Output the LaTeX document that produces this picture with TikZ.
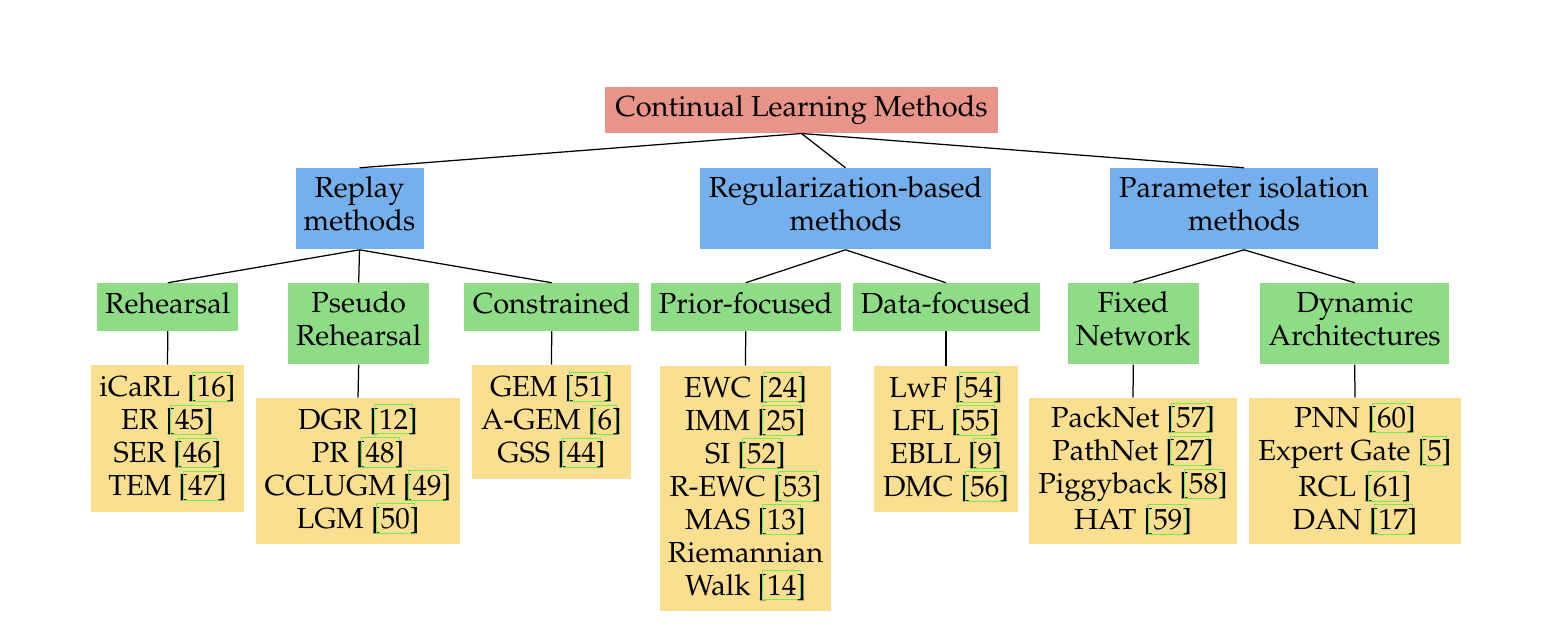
\documentclass[tikz,border=0pt]{standalone}
\usepackage[T1]{fontenc}
\usepackage{mathpazo}

\definecolor{rootred}{RGB}{232,148,136}
\definecolor{catblue}{RGB}{117,175,236}
\definecolor{subgreen}{RGB}{143,220,135}
\definecolor{leafyellow}{RGB}{249,223,143}
\definecolor{citegreen}{RGB}{120,235,80}

% citation number in brackets with a thin link frame around the number
\newcommand\rf[1]{[\setbox0=\hbox{#1}\rlap{\hbox to \wd0{\hss\textcolor{citegreen}{\fboxsep=1.6pt\fboxrule=0.4pt\fbox{\phantom{#1}}}\hss}}#1]}

\tikzset{
  base/.style={inner sep=0pt, align=center, font=\fontsize{11.6}{13.2}\selectfont,
               execute at begin node=\strut, execute at end node=\strut},
  wh/.style 2 args={minimum width=#1*0.4pt, minimum height=#2*0.4pt},
  rootbox/.style={base, fill=rootred},
  catbox/.style={base, fill=catblue},
  subbox/.style={base, fill=subgreen},
  leafbox/.style={base, fill=leafyellow},
  link/.style={line width=0.5pt, black}
}

\begin{document}
\begin{tikzpicture}[x=0.4pt, y=-0.4pt]
\useasboundingbox (0,0) rectangle (1552,632);

% root
\node[rootbox, wh={393}{46}] (root) at (801.5,110) {Continual Learning Methods};

% families
\node[catbox, wh={128}{81}] (replay) at (359.5,208.8) {Replay\\methods};
\node[catbox, wh={291}{81}] (reg)    at (845.5,208.8) {Regularization-based\\methods};
\node[catbox, wh={268}{81}] (param)  at (1244,208.8) {Parameter isolation\\methods};

% sub-categories
\node[subbox, wh={141}{47.5}] (reh)    at (167.8,307) {Rehearsal};
\node[subbox, wh={141}{81}]   (pseudo) at (358.7,323.7) {Pseudo\\Rehearsal};
\node[subbox, wh={175}{47.5}] (cons)   at (551.7,307) {Constrained};
\node[subbox, wh={190}{47.5}] (prior)  at (745.7,307) {Prior-focused};
\node[subbox, wh={187}{47.5}] (data)   at (946,307) {Data-focused};
\node[subbox, wh={131}{81}]   (fixed)  at (1133.3,323.7) {Fixed\\Network};
\node[subbox, wh={189}{81}]   (dyn)    at (1354.7,323.7) {Dynamic\\Architectures};

% methods
\node[leafbox, wh={153}{147}] (lreh) at (167.5,438.5)
  {iCaRL \rf{16}\\ER \rf{45}\\SER \rf{46}\\TEM \rf{47}};
\node[leafbox, wh={204}{146}] (lpseudo) at (358,471)
  {DGR \rf{12}\\PR \rf{48}\\CCLUGM \rf{49}\\LGM \rf{50}};
\node[leafbox, wh={159}{114}] (lcons) at (551.5,422)
  {GEM \rf{51}\\A-GEM \rf{6}\\GSS \rf{44}};
\node[leafbox, wh={171}{245}] (lprior) at (745.5,488.5)
  {EWC \rf{24}\\IMM \rf{25}\\SI \rf{52}\\R-EWC \rf{53}\\MAS \rf{13}\\Riemannian\\Walk \rf{14}};
\node[leafbox, wh={144}{146}] (ldata) at (946,439)
  {LwF \rf{54}\\LFL \rf{55}\\EBLL \rf{9}\\DMC \rf{56}};
\node[leafbox, wh={208}{146}] (lfixed) at (1133,471)
  {PackNet \rf{57}\\PathNet \rf{27}\\Piggyback \rf{58}\\HAT \rf{59}};
\node[leafbox, wh={212}{146}] (ldyn) at (1355,471)
  {PNN \rf{60}\\Expert Gate \rf{5}\\RCL \rf{61}\\DAN \rf{17}};

% connectors
\foreach \p/\c in {root/replay, root/reg, root/param,
                   replay/reh, replay/pseudo, replay/cons,
                   reg/prior, reg/data,
                   param/fixed, param/dyn,
                   reh/lreh, pseudo/lpseudo, cons/lcons, prior/lprior,
                   data/ldata, fixed/lfixed, dyn/ldyn}
  \draw[link] (\p.south) -- (\c.north);
\end{tikzpicture}
\end{document}
